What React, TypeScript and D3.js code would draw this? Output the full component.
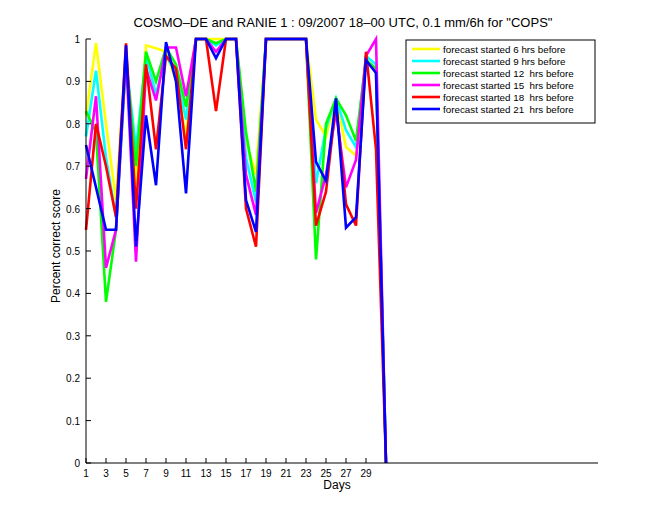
import React from "react";
import * as d3 from "d3";

const days = d3.range(1, 32);
const seriesNames = [
  "forecast started 6 hrs before",
  "forecast started 9 hrs before",
  "forecast started 12  hrs before",
  "forecast started 15  hrs before",
  "forecast started 18  hrs before",
  "forecast started 21  hrs before",
];
const seriesColors = ["#ffff00", "#00ffff", "#00ff00", "#ff00ff", "#ff0000", "#0000ff"];

const yellow = [0.82, 0.99, 0.8, 0.62, 0.97, 0.655, 0.985, 0.978, 0.97, 0.9, 0.77, 1, 1, 1, 1, 1, 0.76, 0.68, 1, 1, 1, 1, 1, 0.81, 0.77, 0.86, 0.745, 0.725, 0.95, 0.93, 0];
const cyan = [0.77, 0.925, 0.72, 0.58, 0.95, 0.74, 0.96, 0.87, 0.96, 0.92, 0.81, 1, 1, 0.985, 1, 1, 0.72, 0.615, 1, 1, 1, 1, 1, 0.66, 0.79, 0.86, 0.785, 0.745, 0.96, 0.94, 0];
const green = [0.83, 0.78, 0.38, 0.55, 0.95, 0.7, 0.97, 0.9, 0.98, 0.94, 0.84, 1, 1, 0.99, 1, 1, 0.78, 0.64, 1, 1, 1, 1, 1, 0.48, 0.8, 0.86, 0.82, 0.76, 0.95, 0.93, 0];
const magenta = [0.67, 0.865, 0.46, 0.55, 0.96, 0.475, 0.93, 0.855, 0.98, 0.98, 0.865, 1, 1, 0.97, 1, 1, 0.68, 0.585, 1, 1, 1, 1, 1, 0.59, 0.68, 0.83, 0.65, 0.715, 0.96, 1.0, 0];
const red = [0.55, 0.8, 0.7, 0.58, 0.99, 0.6, 0.94, 0.74, 0.96, 0.93, 0.74, 1, 1, 0.83, 1, 1, 0.6, 0.51, 1, 1, 1, 1, 1, 0.56, 0.64, 0.85, 0.61, 0.56, 0.97, 0.74, 0];
const blue = [0.75, 0.65, 0.55, 0.55, 0.985, 0.51, 0.82, 0.655, 0.993, 0.9, 0.636, 1, 1, 0.955, 1, 1, 0.62, 0.545, 1, 1, 1, 1, 1, 0.71, 0.665, 0.86, 0.555, 0.58, 0.95, 0.92, 0];
const seriesValues = [yellow, cyan, green, magenta, red, blue];

const xTicks = d3.range(1, 30, 2);
const yTicks = d3.range(0, 11).map((i) => i / 10);

const title = 'COSMO\u2013DE and RANIE 1 : 09/2007 18\u201300 UTC, 0.1 mm/6h for "COPS"';

export default function App() {
  const left = 86, right = 598, top = 39, bottom = 463;
  const x = d3.scaleLinear().domain([1, 52.2]).range([left, right]);
  const y = d3.scaleLinear().domain([0, 1]).range([bottom, top]);
  const line = d3
    .line<number>()
    .x((_, i) => x(days[i]))
    .y((d) => y(d));
  const font = "Helvetica, Arial, 'Liberation Sans', sans-serif";
  const fmt = (v: number) => (v === 0 ? "0" : v === 1 ? "1" : d3.format(".1f")(v));

  const legX = 406, legY = 40, legW = 189, legH = 83;
  return (
    <svg
      width={660}
      height={520}
      style={{ position: "absolute", left: 0, top: 0, background: "#fff" }}
      fontFamily={font}
    >
      <rect x={0} y={0} width={660} height={520} fill="#fff" />
      <text x={343} y={27} textAnchor="middle" fontSize={13}>
        {title}
      </text>
      {seriesValues.map((vals, k) => (
        <path key={k} d={line(vals) || ""} fill="none" stroke={seriesColors[k]} strokeWidth={2.6} strokeLinejoin="miter" />
      ))}
      {/* axes */}
      <line x1={left} y1={top} x2={left} y2={bottom} stroke="#000" strokeWidth={1} />
      <line x1={left} y1={bottom} x2={right} y2={bottom} stroke="#000" strokeWidth={1} />
      {yTicks.map((t) => (
        <g key={"y" + t}>
          <line x1={left} x2={left + 5} y1={y(t)} y2={y(t)} stroke="#000" />
          <text x={left - 6} y={y(t) + 4} textAnchor="end" fontSize={10}>
            {fmt(t)}
          </text>
        </g>
      ))}
      {xTicks.map((t) => (
        <g key={"x" + t}>
          <line x1={x(t)} x2={x(t)} y1={bottom} y2={bottom - 5} stroke="#000" />
          <text x={x(t)} y={bottom + 14} textAnchor="middle" fontSize={10}>
            {t}
          </text>
        </g>
      ))}
      <text x={337} y={489} textAnchor="middle" fontSize={12}>
        Days
      </text>
      <text
        transform={`translate(60,246) rotate(-90)`}
        textAnchor="middle"
        fontSize={12}
      >
        Percent correct score
      </text>
      {/* legend */}
      <rect x={legX} y={legY} width={legW} height={legH} fill="#fff" stroke="#000" strokeWidth={1} />
      {seriesNames.map((name, k) => (
        <g key={name}>
          <line
            x1={legX + 6}
            x2={legX + 34}
            y1={legY + 9 + k * 12}
            y2={legY + 9 + k * 12}
            stroke={seriesColors[k]}
            strokeWidth={2.6}
          />
          <text x={legX + 37} y={legY + 12.5 + k * 12} fontSize={9.8} style={{ whiteSpace: "pre" }}>
            {name}
          </text>
        </g>
      ))}
    </svg>
  );
}
